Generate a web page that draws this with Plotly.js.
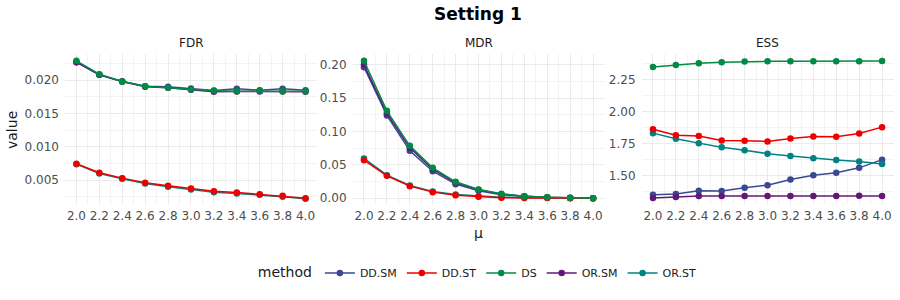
<!DOCTYPE html>
<html><head><meta charset="utf-8">
<script src="https://cdn.plot.ly/plotly-3.0.1.min.js"></script>
<style>body{margin:0;padding:0;background:#fff}#chart{width:900px;height:300px}</style>
</head><body><div id="chart"></div>
<script>
const mu = [2.0, 2.2, 2.4, 2.6, 2.8, 3.0, 3.2, 3.4, 3.6, 3.8, 4.0];
const methods = ["DD.SM", "DD.ST", "DS", "OR.SM", "OR.ST"];
const colors = ["#3B4992", "#EE0000", "#008B45", "#631879", "#008280"];
const panels = ["FDR", "MDR", "ESS"];

const FDR_DD_SM = [0.0227, 0.0208, 0.0198, 0.0191, 0.0190, 0.01875, 0.01845, 0.0187, 0.0185, 0.0187, 0.0185];
const FDR_DD_ST = [0.00745, 0.0061, 0.0053, 0.0046, 0.00415, 0.00375, 0.00335, 0.00315, 0.0029, 0.00265, 0.0023];
const FDR_DS    = [0.0229, 0.0209, 0.0198, 0.0191, 0.01885, 0.0186, 0.01840, 0.01835, 0.01840, 0.01835, 0.01835];
const FDR_OR_SM = [0.0227, 0.0208, 0.0198, 0.0190, 0.01885, 0.01855, 0.01825, 0.01830, 0.01830, 0.01830, 0.01825];
const FDR_OR_ST = [0.0074, 0.0060, 0.0052, 0.0045, 0.0040, 0.0036, 0.0032, 0.0030, 0.0028, 0.0025, 0.0022];

const MDR_DD_SM = [0.1965, 0.124, 0.071, 0.0405, 0.021, 0.011, 0.005, 0.0025, 0.001, 0.0003, 0.0];
const MDR_DD_ST = [0.057, 0.0335, 0.018, 0.009, 0.0045, 0.002, 0.0005, 0.0003, 0.0001, 0.0, 0.0];
const MDR_DS    = [0.206, 0.131, 0.0785, 0.0455, 0.0245, 0.013, 0.0065, 0.003, 0.0015, 0.0005, 0.0];
const MDR_OR_SM = [0.200, 0.127, 0.0755, 0.0435, 0.023, 0.0125, 0.006, 0.003, 0.0012, 0.0004, 0.0];
const MDR_OR_ST = [0.0595, 0.0345, 0.019, 0.010, 0.0055, 0.003, 0.0015, 0.001, 0.0005, 0.0002, 0.0];

const ESS_DD_SM = [1.350, 1.355, 1.381, 1.379, 1.404, 1.425, 1.469, 1.503, 1.521, 1.560, 1.624];
const ESS_DD_ST = [1.862, 1.815, 1.808, 1.774, 1.772, 1.766, 1.790, 1.805, 1.803, 1.829, 1.878];
const ESS_DS    = [2.348, 2.364, 2.377, 2.384, 2.390, 2.392, 2.392, 2.392, 2.392, 2.393, 2.395];
const ESS_OR_SM = [1.324, 1.332, 1.340, 1.340, 1.340, 1.340, 1.340, 1.340, 1.341, 1.342, 1.340];
const ESS_OR_ST = [1.831, 1.787, 1.753, 1.720, 1.697, 1.671, 1.653, 1.635, 1.622, 1.609, 1.591];

const data = {
  FDR: [FDR_DD_SM, FDR_DD_ST, FDR_DS, FDR_OR_SM, FDR_OR_ST],
  MDR: [MDR_DD_SM, MDR_DD_ST, MDR_DS, MDR_OR_SM, MDR_OR_ST],
  ESS: [ESS_DD_SM, ESS_DD_ST, ESS_DS, ESS_OR_SM, ESS_OR_ST]
};

const drawOrder = [0, 3, 4, 1, 2];
const traces = [];
panels.forEach((p, pi) => {
  drawOrder.forEach(mi => {
    traces.push({
      x: mu, y: data[p][mi], type: 'scatter', mode: 'lines+markers',
      name: methods[mi], legendgroup: methods[mi], legendrank: mi + 1,
      showlegend: pi === 0,
      line: {color: colors[mi], width: 1.5},
      marker: {color: colors[mi], size: 6.5},
      xaxis: pi === 0 ? 'x' : 'x' + (pi + 1),
      yaxis: pi === 0 ? 'y' : 'y' + (pi + 1),
      hoverinfo: 'skip'
    });
  });
});

const tickFont = {family: 'DejaVu Sans', size: 12, color: '#4D4D4D'};
const grid = '#EBEBEB';
function xax(dom) {
  return {domain: dom, range: [1.9, 4.1], tick0: 2, dtick: 0.2, tickformat: '.1f',
    showgrid: true, gridcolor: grid, gridwidth: 1, zeroline: false, showline: false,
    ticks: '', tickfont: tickFont, ticklabelstandoff: 2,
    minor: {showgrid: true, gridcolor: '#F3F3F3', gridwidth: 1, dtick: 0.1, tick0: 2.1}};
}
function yax(anchor, range, dtick, fmt, minorDtick) {
  return {domain: [0.3167, 0.82], anchor: anchor, range: range, dtick: dtick, tick0: 0, tickformat: fmt,
    showgrid: true, gridcolor: grid, gridwidth: 1, zeroline: false, showline: false,
    ticks: '', tickfont: tickFont, ticklabelstandoff: 5,
    minor: {showgrid: true, gridcolor: '#F3F3F3', gridwidth: 1, dtick: minorDtick}};
}

const layout = {
  width: 900, height: 300,
  margin: {l: 0, r: 0, t: 0, b: 0},
  paper_bgcolor: '#fff', plot_bgcolor: '#fff',
  font: {family: 'DejaVu Sans', color: '#1A1A1A'},
  showlegend: true,
  xaxis: xax([0.0722, 0.3522]),
  xaxis2: xax([0.3917, 0.6717]),
  xaxis3: xax([0.7128, 0.9928]),
  yaxis: yax('x', [0.00127, 0.02393], 0.005, '.3f', 0.0025),
  yaxis2: yax('x2', [-0.0103, 0.2163], 0.05, '.2f', 0.025),
  yaxis3: Object.assign(yax('x3', [1.270, 2.449], 0.25, '.2f', 0.125), {tick0: 1.5}),
  legend: {orientation: 'h', x: 0.532, xanchor: 'center', y: 0.09, yanchor: 'middle',
    title: {text: 'method', font: {size: 14, color: '#1A1A1A'}, side: 'left'},
    font: {size: 11, color: '#1A1A1A'}, itemwidth: 30, tracegroupgap: 0,
    traceorder: 'normal'},
  annotations: [
    {text: '<b>Setting 1</b>', xref: 'paper', yref: 'paper', x: 0.531, y: 1 - 14/300, xanchor: 'center', yanchor: 'middle', showarrow: false, font: {size: 17, color: '#000'}},
    {text: 'FDR', xref: 'paper', yref: 'paper', x: 0.2122, y: 1 - 43/300, xanchor: 'center', yanchor: 'middle', showarrow: false, font: {size: 12, color: '#1A1A1A'}},
    {text: 'MDR', xref: 'paper', yref: 'paper', x: 0.5317, y: 1 - 43/300, xanchor: 'center', yanchor: 'middle', showarrow: false, font: {size: 12, color: '#1A1A1A'}},
    {text: 'ESS', xref: 'paper', yref: 'paper', x: 0.8528, y: 1 - 43/300, xanchor: 'center', yanchor: 'middle', showarrow: false, font: {size: 12, color: '#1A1A1A'}},
    {text: 'μ', xref: 'paper', yref: 'paper', x: 0.5317, y: 1 - 223/300, xanchor: 'center', yanchor: 'top', showarrow: false, font: {size: 14, color: '#1A1A1A'}},
    {text: 'value', xref: 'paper', yref: 'paper', x: 12/900, y: 1 - 130/300, xanchor: 'center', yanchor: 'middle', textangle: -90, showarrow: false, font: {size: 14, color: '#1A1A1A'}}
  ]
};

Plotly.newPlot('chart', traces, layout, {displayModeBar: false, staticPlot: true});
</script></body></html>
